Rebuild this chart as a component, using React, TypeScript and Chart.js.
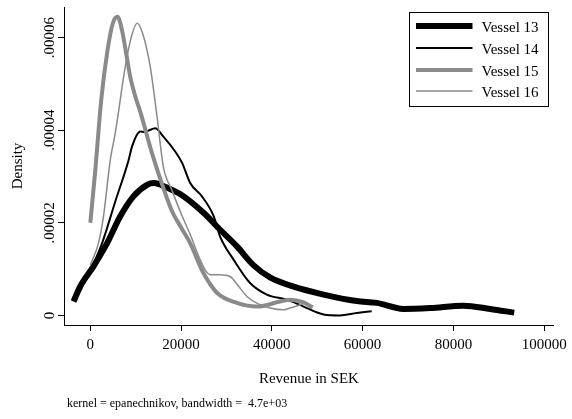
import React, { useEffect, useRef } from "react";
import { Chart, registerables } from "chart.js";

Chart.register(...registerables);

const FONT = '"Liberation Serif", "Times New Roman", serif';

const seriesNames = ["Vessel 13", "Vessel 14", "Vessel 15", "Vessel 16"];

const v13X = [-3700, -2200, 700, 3700, 6600, 9500, 12500, 14000, 16900, 19800, 25000, 28600, 32300, 36000, 39600, 44800, 51400, 58700, 63100, 69000, 74900, 82200, 88100, 93400];
const v13Y = [3.0e-6, 6.3e-6, 10.6e-6, 15.6e-6, 21.4e-6, 25.7e-6, 28.2e-6, 28.6e-6, 27.6e-6, 26.2e-6, 22.1e-6, 18.5e-6, 14.9e-6, 10.8e-6, 8.2e-6, 6.2e-6, 4.5e-6, 3.1e-6, 2.7e-6, 1.4e-6, 1.6e-6, 2.1e-6, 1.4e-6, 0.6e-6];

const v14X = [0, 2600, 5500, 8400, 9200, 11000, 12000, 12800, 14300, 16100, 18700, 20200, 22000, 24600, 27200, 28600, 31600, 35200, 38900, 43300, 47000, 51400, 55000, 58700, 62000];
const v14Y = [9.5e-6, 15.6e-6, 24.6e-6, 33.4e-6, 36.5e-6, 39.7e-6, 39.6e-6, 39.9e-6, 40.4e-6, 38.6e-6, 35.4e-6, 33.0e-6, 28.6e-6, 25.7e-6, 21.4e-6, 17.0e-6, 12.0e-6, 7.0e-6, 4.5e-6, 3.4e-6, 1.9e-6, 0.2e-6, 0.0, 0.5e-6, 0.9e-6];

const v15X = [0, 1100, 2400, 3800, 5000, 6000, 7000, 8000, 8800, 10000, 11000, 13600, 16100, 18000, 20000, 22000, 24900, 27900, 32300, 36800, 41800, 44000, 47000, 49000];
const v15Y = [20.0e-6, 31.4e-6, 46.5e-6, 57.3e-6, 63.2e-6, 64.5e-6, 61.5e-6, 56.0e-6, 51.5e-6, 47.0e-6, 44.0e-6, 35.0e-6, 27.5e-6, 22.5e-6, 19.0e-6, 15.6e-6, 9.2e-6, 4.9e-6, 2.7e-6, 1.9e-6, 3.0e-6, 3.4e-6, 2.8e-6, 1.7e-6];

const v16X = [0, 1800, 2900, 4400, 5500, 7700, 9000, 10300, 11500, 13200, 14700, 16100, 18000, 20000, 22000, 24000, 25500, 26400, 28600, 30800, 32500, 34500, 37000, 39600, 42500, 44000, 46900];
const v16Y = [10.9e-6, 15.6e-6, 21.4e-6, 33.6e-6, 39.4e-6, 53.7e-6, 60.0e-6, 63.1e-6, 61.0e-6, 53.7e-6, 42.9e-6, 32.1e-6, 27.0e-6, 22.0e-6, 17.5e-6, 12.5e-6, 9.5e-6, 8.8e-6, 8.8e-6, 8.4e-6, 6.5e-6, 4.1e-6, 2.5e-6, 1.6e-6, 1.2e-6, 1.6e-6, 2.5e-6];

const xTicks = [0, 20000, 40000, 60000, 80000, 100000];
const yTicks = [0, 0.00002, 0.00004, 0.00006];
const yTickLabels = ["0", ".00002", ".00004", ".00006"];

const xTitle = "Revenue in SEK";
const yTitle = "Density";
const footnote = "kernel = epanechnikov, bandwidth =  4.7e+03";

const colors = ["#000000", "#000000", "#8a8a8a", "#8a8a8a"];
const widths = [6, 2, 4, 1.5];

function pts(xs: number[], ys: number[]) {
  return xs.map((x, i) => ({ x, y: ys[i] }));
}

const textPlugin = {
  id: "stataText",
  afterDraw(chart: any) {
    const ctx = chart.ctx;
    const ys = chart.scales.y;
    const area = chart.chartArea;
    ctx.save();
    ctx.fillStyle = "#000";
    // y tick labels (rotated)
    ctx.font = `15px ${FONT}`;
    ctx.textAlign = "center";
    ctx.textBaseline = "alphabetic";
    yTicks.forEach((v, i) => {
      const py = ys.getPixelForValue(v);
      ctx.save();
      ctx.translate(53.5, py);
      ctx.rotate(-Math.PI / 2);
      ctx.fillText(yTickLabels[i], 0, 0);
      ctx.restore();
    });
    // y title
    ctx.save();
    ctx.translate(22, (area.top + area.bottom) / 2);
    ctx.rotate(-Math.PI / 2);
    ctx.font = `15px ${FONT}`;
    ctx.fillText(yTitle, 0, 0);
    ctx.restore();
    // x title
    ctx.font = `15px ${FONT}`;
    ctx.fillText(xTitle, (area.left + area.right) / 2, 382.5);
    // footnote
    ctx.font = `12px ${FONT}`;
    ctx.textAlign = "left";
    ctx.fillText(footnote, 67, 406.5);
    // legend
    const bx = 409.5, by = 12.5, bw = 139, bh = 94;
    ctx.fillStyle = "#fff";
    ctx.fillRect(bx, by, bw, bh);
    ctx.strokeStyle = "#000";
    ctx.lineWidth = 1;
    ctx.strokeRect(bx, by, bw, bh);
    const rows = [26, 48, 70, 91];
    seriesNames.forEach((name, i) => {
      ctx.beginPath();
      ctx.strokeStyle = colors[i];
      ctx.lineWidth = widths[i];
      ctx.moveTo(416, rows[i]);
      ctx.lineTo(472.5, rows[i]);
      ctx.stroke();
      ctx.fillStyle = "#000";
      ctx.font = `15px ${FONT}`;
      ctx.textAlign = "left";
      ctx.textBaseline = "alphabetic";
      ctx.fillText(name, 481.5, rows[i] + 5.7);
    });
    ctx.restore();
  },
};

export default function App() {
  const ref = useRef<HTMLCanvasElement | null>(null);
  useEffect(() => {
    if (!ref.current) return;
    const data = [pts(v13X, v13Y), pts(v14X, v14Y), pts(v15X, v15Y), pts(v16X, v16Y)];
    const chart = new Chart(ref.current, {
      type: "line",
      data: {
        datasets: seriesNames.map((name, i) => ({
          label: name,
          data: data[i],
          borderColor: colors[i],
          borderWidth: widths[i],
          pointRadius: 0,
          fill: false,
          cubicInterpolationMode: "monotone" as const,
          borderJoinStyle: "round" as const,
          order: 4 - i,
        })),
      },
      options: {
        responsive: false,
        animation: false,
        layout: { padding: { left: 8, top: 7, right: 18, bottom: 0 } },
        plugins: { legend: { display: false }, tooltip: { enabled: false } },
        scales: {
          x: {
            type: "linear",
            min: -5800,
            max: 102150,
            afterFit: (s: any) => { s.height = 94; },
            afterBuildTicks: (s: any) => { s.ticks = xTicks.map((v) => ({ value: v })); },
            grid: { display: true, drawOnChartArea: false, drawTicks: true, tickLength: 6, color: "#000", lineWidth: 1 },
            border: { display: true, color: "#000", width: 1 },
            ticks: {
              autoSkip: false,
              maxRotation: 0,
              padding: 5,
              color: "#000",
              font: { family: FONT, size: 15 },
              callback: (v: any) => String(v),
            },
          },
          y: {
            type: "linear",
            min: -0.00000207,
            max: 0.0000666,
            afterFit: (s: any) => { s.width = 56; },
            afterBuildTicks: (s: any) => { s.ticks = yTicks.map((v) => ({ value: v })); },
            grid: { display: true, drawOnChartArea: false, drawTicks: true, tickLength: 6, color: "#000", lineWidth: 1 },
            border: { display: true, color: "#000", width: 1 },
            ticks: { display: false },
          },
        },
      },
      plugins: [textPlugin],
    });
    return () => chart.destroy();
  }, []);
  return (
    <div style={{ position: "fixed", left: 0, top: 0, width: 572, height: 419, background: "#fff" }}>
      <canvas ref={ref} width={572} height={419} style={{ display: "block" }} />
    </div>
  );
}
